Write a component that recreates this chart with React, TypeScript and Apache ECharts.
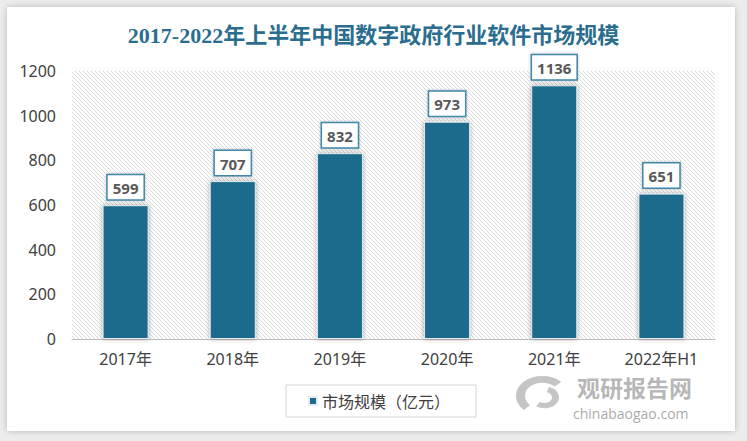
import React, { useEffect, useRef } from "react";
import * as echarts from "echarts";

const categories = ["2017年", "2018年", "2019年", "2020年", "2021年", "2022年H1"];
const marketSize = [599, 707, 832, 973, 1136, 651];
const seriesName = "市场规模（亿元）";
const titleText = "2017-2022年上半年中国数字政府行业软件市场规模";
const yTicks = { min: 0, max: 1200, interval: 200 };

function makeHatch(): string {
  const c = document.createElement("canvas");
  c.width = 4;
  c.height = 4;
  const ctx = c.getContext("2d")!;
  ctx.fillStyle = "#ffffff";
  ctx.fillRect(0, 0, 4, 4);
  ctx.fillStyle = "#dcdcdc";
  for (let i = 0; i < 4; i++) ctx.fillRect(i, i, 1, 1);
  return c.toDataURL();
}

export default function App() {
  const ref = useRef<HTMLDivElement>(null);
  useEffect(() => {
    document.body.style.margin = "0";
    const chart = echarts.init(ref.current!, null, { renderer: "svg" });
    const hatch = makeHatch();
    chart.setOption({
      animation: false,
      title: {
        text: titleText,
        left: "center",
        top: 19,
        textStyle: {
          fontFamily: '"Liberation Serif", "Noto Sans CJK SC", serif',
          fontWeight: "bold",
          fontSize: 22,
          color: "#2a6d8e",
        },
      },
      grid: {
        left: 72,
        right: 32,
        top: 71,
        bottom: 102,
        show: true,
        borderWidth: 0,
        backgroundColor: {
          image: hatch,
          imageWidth: 4,
          imageHeight: 4,
          repeat: "repeat",
        },
      },
      legend: {
        data: [seriesName],
        left: 286,
        top: 385,
        icon: "rect",
        itemWidth: 8,
        itemHeight: 8,
        itemGap: 8,
        borderColor: "#d6d6d6",
        borderWidth: 1,
        padding: [8, 26, 8, 22],
        textStyle: {
          fontFamily: '"Noto Sans CJK SC", sans-serif',
          fontSize: 16,
          color: "#404040",
        },
      },
      xAxis: {
        type: "category",
        data: categories,
        axisTick: { show: false },
        axisLine: { lineStyle: { color: "#bfbfbf", width: 1 } },
        axisLabel: {
          margin: 12,
          fontSize: 16,
          color: "#404040",
          fontFamily: '"Noto Sans", "Noto Sans CJK SC", sans-serif',
        },
      },
      yAxis: {
        type: "value",
        min: yTicks.min,
        max: yTicks.max,
        interval: yTicks.interval,
        splitLine: { show: false },
        axisLine: { show: false },
        axisTick: { show: false },
        axisLabel: {
          margin: 16,
          fontSize: 16,
          color: "#404040",
          fontFamily: '"Noto Sans", sans-serif',
          formatter: (v: number) => String(v),
        },
      },
      series: [
        {
          name: seriesName,
          type: "bar",
          data: marketSize,
          barWidth: "43%",
          itemStyle: {
            color: "#1c6a8c",
            borderColor: "#e4edf1",
            borderWidth: 1,
            shadowBlur: 5,
            shadowColor: "rgba(0,0,0,0.35)",
          },
          label: {
            show: true,
            position: "top",
            distance: 6,
            fontFamily: '"Open Sans", "DejaVu Sans", sans-serif',
            fontWeight: "bold",
            fontSize: 15,
            color: "#595959",
            backgroundColor: "#ffffff",
            borderColor: "#3f87a8",
            borderWidth: 1.5,
            padding: [5, 5, 4, 5],
            shadowBlur: 3,
            shadowColor: "rgba(0,0,0,0.25)",
          },
        },
      ],
      graphic: [
        {
          type: "group",
          left: 516,
          top: 376,
          children: [
            {
              type: "arc",
              shape: { cx: 26, cy: 20, r: 22, startAngle: Math.PI * 0.75, endAngle: Math.PI * 1.75 },
              scaleY: 0.75,
              style: { stroke: "rgba(150,150,150,0.55)", lineWidth: 9, fill: "none" },
            },
            {
              type: "arc",
              shape: { cx: 28, cy: 22, r: 11, startAngle: Math.PI * 1.6, endAngle: Math.PI * 2.7 },
              scaleY: 0.75,
              style: { stroke: "rgba(150,150,150,0.55)", lineWidth: 7, fill: "none" },
            },
          ],
        },
        {
          type: "text",
          left: 577,
          top: 375,
          style: {
            text: "观研报告网",
            font: 'bold 23px "Noto Sans CJK SC", sans-serif',
            fill: "rgba(120,120,120,0.55)",
          },
        },
        {
          type: "text",
          left: 573,
          top: 406,
          style: {
            text: "chinabaogao.com",
            font: '14px "Open Sans", "DejaVu Sans", sans-serif',
            fill: "rgba(120,120,120,0.65)",
          },
        },
      ],
    });
    return () => chart.dispose();
  }, []);

  return (
    <div style={{ position: "relative", width: 747, height: 441, background: "#ececec", overflow: "hidden" }}>
      <div
        style={{
          position: "absolute",
          left: 7,
          top: 7,
          width: 728,
          height: 424,
          background: "#ffffff",
          boxShadow: "0 0 6px rgba(0,0,0,0.22)",
        }}
      />
      <div ref={ref} style={{ position: "absolute", left: 0, top: 0, width: 747, height: 441 }} />
    </div>
  );
}
